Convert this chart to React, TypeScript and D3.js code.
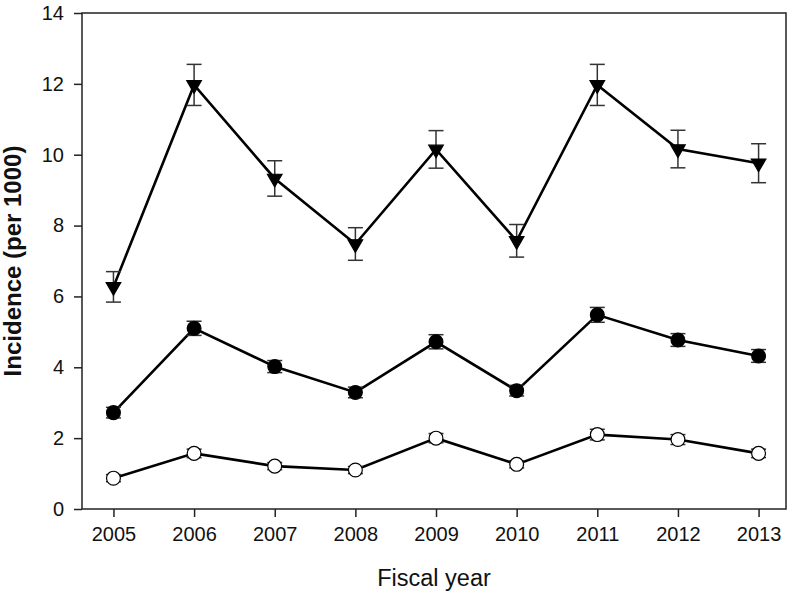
import React, { useEffect, useRef } from "react";
import * as d3 from "d3";

const years = [2005, 2006, 2007, 2008, 2009, 2010, 2011, 2012, 2013];

// three groups, each value with its +/- error
const triValues = [6.27, 11.97, 9.33, 7.48, 10.15, 7.57, 11.97, 10.16, 9.76];
const triErrors = [0.43, 0.58, 0.5, 0.46, 0.53, 0.46, 0.58, 0.53, 0.55];
const filledValues = [2.72, 5.1, 4.02, 3.29, 4.72, 3.34, 5.48, 4.77, 4.32];
const filledErrors = [0.15, 0.2, 0.17, 0.15, 0.2, 0.15, 0.21, 0.18, 0.18];
const openValues = [0.87, 1.57, 1.21, 1.1, 2.0, 1.26, 2.1, 1.96, 1.57];
const openErrors = [0.1, 0.12, 0.1, 0.1, 0.13, 0.1, 0.15, 0.14, 0.12];

const yTicks = [0, 2, 4, 6, 8, 10, 12, 14];

const width = 795;
const height = 595;
const margin = { top: 13, right: 9, bottom: 86, left: 82 };

export default function App() {
  const ref = useRef<SVGSVGElement>(null);

  useEffect(() => {
    const svg = d3.select(ref.current);
    svg.selectAll("*").remove();

    const x = d3
      .scaleLinear()
      .domain([2004.61, 2013.34])
      .range([margin.left, width - margin.right]);
    const y = d3
      .scaleLinear()
      .domain([0, 14])
      .range([height - margin.bottom, margin.top]);

    const font = "Arial, 'Liberation Sans', sans-serif";

    // frame
    svg
      .append("rect")
      .attr("x", margin.left)
      .attr("y", margin.top)
      .attr("width", width - margin.left - margin.right)
      .attr("height", height - margin.top - margin.bottom)
      .attr("fill", "none")
      .attr("stroke", "#222")
      .attr("stroke-width", 1.5);

    const xAxis = svg
      .append("g")
      .attr("transform", `translate(0,${height - margin.bottom})`)
      .call(d3.axisBottom(x).tickValues(years).tickFormat(d3.format("d")).tickSize(8).tickPadding(10));
    xAxis.select(".domain").remove();
    xAxis.selectAll("line").attr("stroke", "#222").attr("stroke-width", 1.5);
    xAxis.selectAll("text").attr("font-family", font).attr("font-size", 20).attr("fill", "#111");

    const yAxis = svg
      .append("g")
      .attr("transform", `translate(${margin.left},0)`)
      .call(d3.axisLeft(y).tickValues(yTicks).tickSize(8).tickPadding(10));
    yAxis.select(".domain").remove();
    yAxis.selectAll("line").attr("stroke", "#222").attr("stroke-width", 1.5);
    yAxis.selectAll("text").attr("font-family", font).attr("font-size", 20).attr("fill", "#111");

    svg
      .append("text")
      .attr("transform", `translate(${21},${(margin.top + height - margin.bottom) / 2}) rotate(-90)`)
      .attr("text-anchor", "middle")
      .attr("font-family", font)
      .attr("font-weight", "bold")
      .attr("font-size", 24)
      .attr("fill", "#111")
      .text("Incidence (per 1000)");

    svg
      .append("text")
      .attr("x", (margin.left + width - margin.right) / 2)
      .attr("y", 586)
      .attr("text-anchor", "middle")
      .attr("font-family", font)
      .attr("font-size", 23.5)
      .attr("fill", "#111")
      .text("Fiscal year");

    const groups = [
      { values: triValues, errors: triErrors, kind: "tri" },
      { values: filledValues, errors: filledErrors, kind: "filled" },
      { values: openValues, errors: openErrors, kind: "open" },
    ];

    const line = d3
      .line<number>()
      .x((d, i) => x(years[i]))
      .y((d) => y(d));

    groups.forEach((g) => {
      svg
        .append("path")
        .datum(g.values)
        .attr("d", line)
        .attr("fill", "none")
        .attr("stroke", "#000")
        .attr("stroke-width", 2.6);

      const bars = svg.append("g").attr("stroke", "#333").attr("stroke-width", 1.5);
      g.values.forEach((v, i) => {
        const cx = x(years[i]);
        const top = y(v + g.errors[i]);
        const bot = y(v - g.errors[i]);
        bars.append("line").attr("x1", cx).attr("x2", cx).attr("y1", top).attr("y2", bot);
        bars.append("line").attr("x1", cx - 7.5).attr("x2", cx + 7.5).attr("y1", top).attr("y2", top);
        bars.append("line").attr("x1", cx - 7.5).attr("x2", cx + 7.5).attr("y1", bot).attr("y2", bot);
      });

      const sym =
        g.kind === "tri"
          ? d3.symbol().type(d3.symbolTriangle).size(92)
          : d3.symbol().type(d3.symbolCircle).size(150);

      svg
        .append("g")
        .selectAll("path")
        .data(g.values)
        .join("path")
        .attr("d", sym() as string)
        .attr(
          "transform",
          (d, i) => `translate(${x(years[i])},${y(d)})` + (g.kind === "tri" ? " rotate(180)" : "")
        )
        .attr("fill", g.kind === "open" ? "#fff" : "#000")
        .attr("stroke", "#000")
        .attr("stroke-width", 1.2);
    });
  }, []);

  return (
    <svg ref={ref} width={width} height={height} style={{ position: "absolute", left: 0, top: 0 }} />
  );
}
